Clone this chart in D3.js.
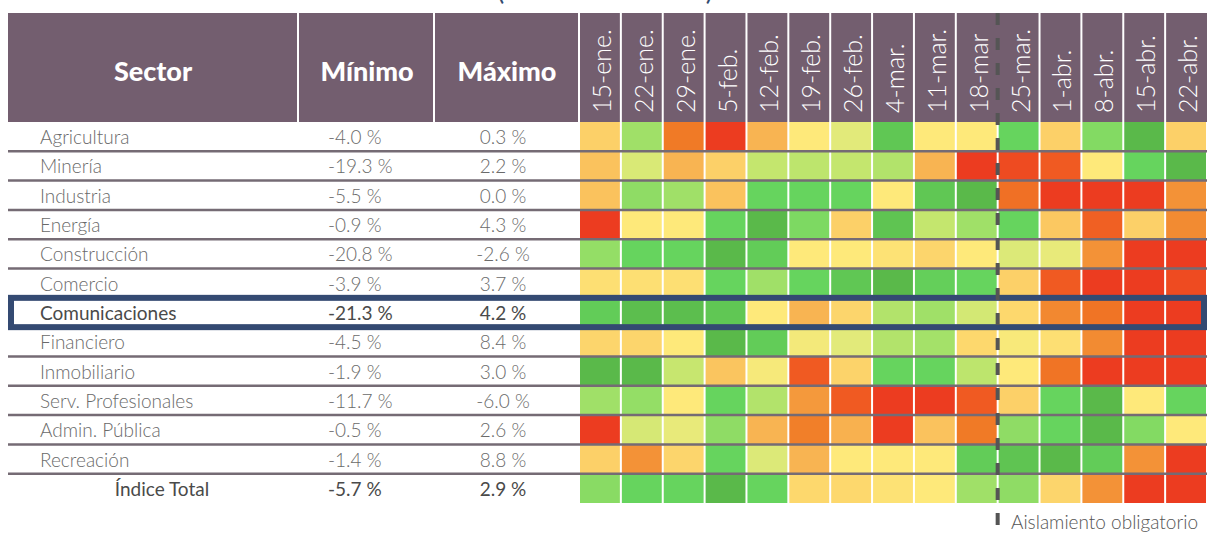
<!DOCTYPE html>
<html>
<head>
<meta charset="utf-8">
<script src="https://d3js.org/d3.v7.min.js"></script>
<style>
  * { margin:0; padding:0; }
  body { background:#fff; overflow:hidden; font-family:Lato, 'Open Sans', sans-serif; }
</style>
</head>
<body>
<svg id="chart" width="1207" height="534"></svg>
<script>
// ── Data ─────────────────────────────────────────────────────────────────────
const sectors = ["Agricultura", "Minería", "Industria", "Energía", "Construcción", "Comercio",
  "Comunicaciones", "Financiero", "Inmobiliario", "Serv. Profesionales", "Admin. Pública",
  "Recreación", "Índice Total"];
const minimos = ["-4.0 %", "-19.3 %", "-5.5 %", "-0.9 %", "-20.8 %", "-3.9 %", "-21.3 %",
  "-4.5 %", "-1.9 %", "-11.7 %", "-0.5 %", "-1.4 %", "-5.7 %"];
const maximos = ["0.3 %", "2.2 %", "0.0 %", "4.3 %", "-2.6 %", "3.7 %", "4.2 %",
  "8.4 %", "3.0 %", "-6.0 %", "2.6 %", "8.8 %", "2.9 %"];
const weeks = ["15-ene.", "22-ene.", "29-ene.", "5-feb.", "12-feb.", "19-feb.", "26-feb.",
  "4-mar.", "11-mar.", "18-mar", "25-mar.", "1-abr.", "8-abr.", "15-abr.", "22-abr."];

// colour score per week: 0 = worst (red) ... 11 = best (dark green)
const scores = [
  [5, 9, 2, 0, 4, 6, 7, 10.5, 6, 6, 10, 5, 9.5, 11, 5],            // Agricultura
  [4.5, 7.3, 4, 5, 8, 8.2, 8, 8.5, 4, 0, 0.5, 1, 6, 10, 11],       // Minería
  [4.5, 9.3, 9, 4.5, 10, 10, 10, 6, 10.5, 11, 1.7, 0, 0, 0, 3],    // Industria
  [0, 6, 6, 10, 11, 9.6, 5, 10.6, 8, 9, 10, 4.7, 1.2, 5, 2.7],     // Energía
  [9.2, 10, 10, 11, 10.3, 6, 6, 5.7, 5.2, 6, 7.2, 6.8, 3, 0, 0],   // Construcción
  [5.6, 5.6, 5.6, 10, 9, 10, 10.5, 11, 10.2, 10, 5, 1, 0, 0, 0.5], // Comercio
  [10.3, 10.8, 10.8, 10.5, 6, 4, 5.2, 8.5, 9, 7.5, 5.3, 2.6, 1.8, 0, 0], // Comunicaciones
  [5.2, 5.2, 6, 11, 10.3, 6.4, 7, 8.5, 8.9, 5.3, 6.2, 5.6, 2.7, 0, 0],   // Financiero
  [11, 11, 7.9, 4.6, 6.3, 1, 5.1, 10, 10, 8.2, 6, 1.8, 0, 0, 0],   // Inmobiliario
  [9, 9.2, 6, 10, 8.5, 3.2, 1, 0, 0, 1, 5, 10, 11, 6, 10],         // Serv. Profesionales
  [0, 7.4, 6.8, 9.3, 4, 2.2, 3.9, 0, 4.5, 2, 9.3, 10, 11, 9.5, 6], // Admin. Pública
  [5, 3, 5.2, 10, 7.2, 4, 6, 6, 6, 10.3, 10.6, 11, 10.3, 3, 0],    // Recreación
  [9.4, 10, 10, 11, 10, 5.3, 5.3, 5.7, 6, 9, 9.3, 5.2, 3, 0, 0]    // Índice Total
];
const palette = ["#ec3c20", "#f05a22", "#f07a26", "#f39237", "#f8b452", "#fcd068",
  "#fee97a", "#e2ea7a", "#c4e66e", "#a0e068", "#66d45e", "#5ab94a"];

const highlight = "Comunicaciones";
const totalRow = "Índice Total";
const breakWeek = "25-mar.";

// ── Scales ───────────────────────────────────────────────────────────────────
const svg = d3.select("#chart");
const headTop = 13, headBot = 122, left = 8, W = 1207;

const x = d3.scaleBand().domain(weeks).range([579, W]);
const y = d3.scaleBand().domain(sectors).range([headBot, 503]);
const color = d3.scaleLinear().domain(d3.range(palette.length)).range(palette);

// ── Title (cut at the top, as in the source) ─────────────────────────────────
svg.append("text")
  .attr("x", 605).attr("y", 0)
  .attr("text-anchor", "middle")
  .attr("font-size", 26).attr("fill", "#34496f")
  .text("(variación semanal)");

// ── Header ───────────────────────────────────────────────────────────────────
svg.append("rect")
  .attr("x", left).attr("y", headTop)
  .attr("width", W - left).attr("height", headBot - headTop)
  .attr("fill", "#735e6f");

const dividers = [298, 434].concat(weeks.filter(w => w !== breakWeek).map(w => x(w)));
svg.selectAll(".hdiv").data(dividers).join("line")
  .attr("x1", d => d).attr("x2", d => d)
  .attr("y1", headTop).attr("y2", headBot)
  .attr("stroke", "#fff").attr("stroke-width", 2);

const headCols = [["Sector", 153], ["Mínimo", 367], ["Máximo", 507]];
svg.selectAll(".hcol").data(headCols).join("text")
  .attr("x", d => d[1]).attr("y", 70)
  .attr("text-anchor", "middle").attr("dominant-baseline", "central")
  .attr("font-size", 27).attr("font-weight", 900).attr("fill", "#fff")
  .text(d => d[0]);

svg.selectAll(".wk").data(weeks).join("text")
  .attr("transform", d => "translate(" + (x(d) + x.bandwidth() / 2 + 1) + ",113) rotate(-90)")
  .attr("dominant-baseline", "central")
  .attr("font-size", 25).attr("font-weight", 300).attr("fill", "#fff")
  .text(d => d);

// ── Heatmap cells ────────────────────────────────────────────────────────────
const cells = [];
sectors.forEach((s, i) => weeks.forEach((w, j) => cells.push({ s: s, w: w, v: scores[i][j] })));

svg.selectAll(".cell").data(cells).join("rect")
  .attr("x", d => x(d.w) + 1).attr("y", d => y(d.s))
  .attr("width", x.bandwidth() - 2).attr("height", y.bandwidth())
  .attr("fill", d => color(d.v));

// ── Row separators ───────────────────────────────────────────────────────────
svg.selectAll(".rline").data(sectors.slice(0, -1)).join("line")
  .attr("x1", left).attr("x2", W)
  .attr("y1", d => y(d) + y.bandwidth()).attr("y2", d => y(d) + y.bandwidth())
  .attr("stroke", "#756b74").attr("stroke-width", 2.5);

// ── Left table text ──────────────────────────────────────────────────────────
const rowText = function(sel, cls, xPos, anchor, getText) {
  sel.selectAll("." + cls).data(sectors).join("text")
    .attr("x", d => (d === totalRow && cls === "name") ? 162 : xPos)
    .attr("y", d => y(d) + y.bandwidth() / 2)
    .attr("text-anchor", d => (d === totalRow && cls === "name") ? "middle" : anchor)
    .attr("dominant-baseline", "central")
    .attr("font-size", 19)
    .attr("font-weight", d => (d === highlight || d === totalRow) ? 400 : 300)
    .attr("fill", d => (d === highlight || d === totalRow) ? "#4a4a4a" : "#6a6a6a")
    .text((d, i) => getText(d, i));
};
rowText(svg, "name", 40, "start", d => d);
rowText(svg, "min", 328, "start", (d, i) => minimos[i]);
rowText(svg, "max", 503, "middle", (d, i) => maximos[i]);

// ── Highlight box ────────────────────────────────────────────────────────────
svg.append("rect")
  .attr("x", 11).attr("y", y(highlight))
  .attr("width", W - 14).attr("height", y.bandwidth())
  .attr("fill", "none").attr("stroke", "#344a72").attr("stroke-width", 6);

// ── Lockdown marker ──────────────────────────────────────────────────────────
svg.append("line")
  .attr("x1", x(breakWeek)).attr("x2", x(breakWeek))
  .attr("y1", headTop).attr("y2", 534)
  .attr("stroke", "#555").attr("stroke-width", 4)
  .attr("stroke-dasharray", "12,13");

svg.append("text")
  .attr("x", 1011).attr("y", 529)
  .attr("font-size", 19).attr("font-weight", 300).attr("fill", "#555")
  .text("Aislamiento obligatorio");
</script>
</body>
</html>
